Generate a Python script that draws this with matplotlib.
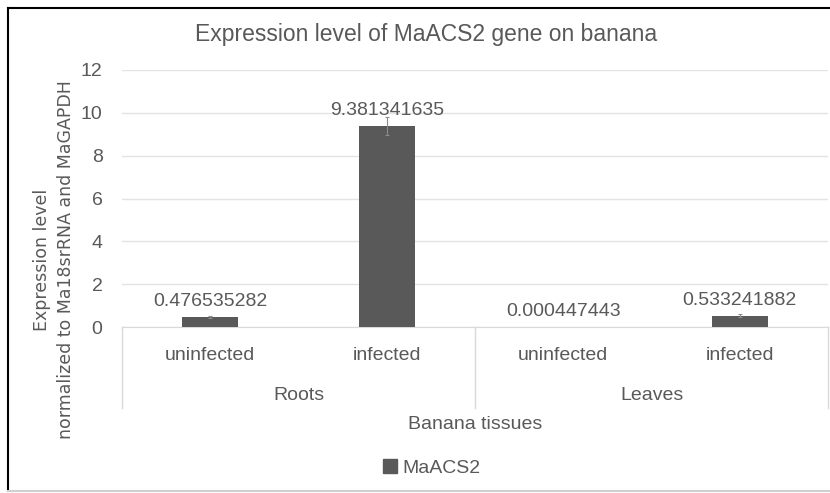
import numpy as np
import matplotlib
matplotlib.use('Agg')
import matplotlib.pyplot as plt
from matplotlib.lines import Line2D
from matplotlib.patches import Patch

# data
groups = ['Roots', 'Leaves']
conditions = ['uninfected', 'infected', 'uninfected', 'infected']
values = [0.476535282, 9.381341635, 0.000447443, 0.533241882]
errors = [0.05, 0.43, 0.0, 0.06]
value_labels = ['0.476535282', '9.381341635', '0.000447443', '0.533241882']
yticks = [0, 2, 4, 6, 8, 10, 12]

txt = '#595959'
narrow = ['Liberation Sans Narrow', 'Liberation Sans', 'DejaVu Sans']

fig = plt.figure(figsize=(8.3, 4.93), dpi=100)
W, H = 830.0, 493.0
ax = fig.add_axes([122 / W, 1 - 327 / H, (828 - 122) / W, (327 - 70) / H])

x = np.arange(len(values))
bars = ax.bar(x, values, width=0.32, color='#595959', zorder=3)
has_err = [i for i, e in enumerate(errors) if e > 0]
ax.errorbar(x[has_err], [values[i] for i in has_err],
            yerr=[errors[i] for i in has_err], fmt='none', ecolor='#8c8c8c',
            elinewidth=0.8, capsize=1.5, capthick=0.8, zorder=4)
for xi, v, lab in zip(x, values, value_labels):
    ax.annotate(lab, (xi, v), xytext=(0, 5), textcoords='offset points',
                ha='center', va='bottom', fontsize=14, color=txt, family=narrow)

ax.set_xlim(-0.5, 3.5)
ax.set_ylim(0, 12)
ax.set_yticks(yticks)
ax.set_yticklabels([str(t) for t in yticks], family=narrow, fontsize=14, color=txt)
ax.tick_params(axis='y', length=0, pad=14)
ax.set_xticks([])
ax.grid(axis='y', color='#e3e3e3', lw=1, zorder=0)
for s in ['top', 'right', 'left']:
    ax.spines[s].set_visible(False)
ax.spines['bottom'].set_color('#d9d9d9')

# multi-level category axis
tr = ax.get_xaxis_transform()
for xi, c in zip(x, conditions):
    ax.text(xi, -0.109, c, transform=tr, ha='center', va='center',
            fontsize=14, color=txt, family=narrow)
for gi, g in enumerate(groups):
    ax.text(gi * 2 + 0.5, -0.268, g, transform=tr, ha='center', va='center',
            fontsize=14, color=txt, family=narrow)
for sx in [-0.5, 1.5, 3.5]:
    ax.add_line(Line2D([sx, sx], [0, -0.315], transform=tr, color='#d9d9d9',
                       lw=1, clip_on=False))
ax.text(0.5, -0.381, 'Banana tissues', transform=ax.transAxes, ha='center',
        va='center', fontsize=14, color=txt, family=narrow)

fig.text(426 / W, 1 - 35 / H, 'Expression level of MaACS2 gene on banana',
         ha='center', va='center', fontsize=16.5, color=txt, family=narrow)
fig.text(54 / W, 1 - 260 / H, 'Expression level\nnormalized to Ma18srRNA and MaGAPDH',
         ha='center', va='center', rotation=90, fontsize=12.5, color=txt,
         linespacing=1.45)

# legend
ax.legend(handles=[Patch(color='#595959')], labels=['MaACS2'], loc='center',
          bbox_to_anchor=(432 / W, 1 - 468 / H),
          bbox_transform=fig.transFigure, frameon=False, handlelength=0.7,
          handleheight=0.7, handletextpad=0.3,
          prop={'family': narrow, 'size': 14}, labelcolor=txt)

# chart border
fig.add_artist(Line2D([8 / W, 8 / W], [1 - 491 / H, 1 - 8 / H], color='black', lw=1.5))
fig.add_artist(Line2D([8 / W, 1], [1 - 8 / H, 1 - 8 / H], color='black', lw=1.5))
fig.add_artist(Line2D([8 / W, 1], [1 - 491 / H, 1 - 491 / H], color='#d0d0d0', lw=1.5))

fig.savefig('out.png', dpi=100)
